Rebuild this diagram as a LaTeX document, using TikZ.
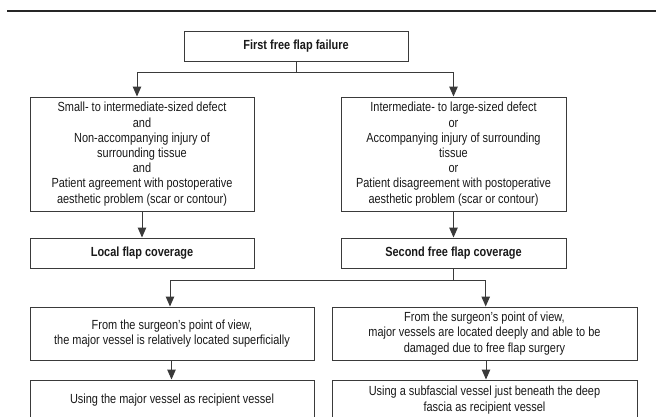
\documentclass[tikz,border=0pt]{standalone}
\usepackage{fontspec}
\setmainfont{Liberation Sans}[FakeStretch=0.83]
\usetikzlibrary{arrows.meta,calc}
\definecolor{ln}{HTML}{3A3A3A}
\definecolor{tx}{HTML}{1A1A1A}
\tikzset{
  box/.style={draw=ln, line width=1pt, rectangle, inner sep=0pt, align=center,
    text=tx, font=\fontsize{13.2}{15.2}\selectfont},
  bbox/.style={box, font=\fontsize{13.2}{15.2}\selectfont\bfseries},
  conn/.style={draw=ln, line width=1pt},
  arr/.style={conn, -{Triangle[length=10pt,width=8.5pt]}},
}
\begin{document}
\begin{tikzpicture}[x=1pt,y=-1pt]
\useasboundingbox (0,0) rectangle (656,416);
\clip (0,0) rectangle (656,416);
\fill[white] (0,0) rectangle (656,416);
\draw[line width=2.5pt, draw=black!85] (7,11) -- (656,11);

\node[bbox, minimum width=224pt, minimum height=30pt] (A) at (296,46) {First free flap failure};
\node[box, minimum width=224pt, minimum height=114pt] (B) at (142,154) {Small- to intermediate-sized defect\\and\\Non-accompanying injury of\\surrounding tissue\\and\\Patient agreement with postoperative\\aesthetic problem (scar or contour)};
\node[box, minimum width=225pt, minimum height=114pt] (C) at (453.5,154) {Intermediate- to large-sized defect\\or\\Accompanying injury of surrounding\\tissue\\or\\Patient disagreement with postoperative\\aesthetic problem (scar or contour)};
\node[bbox, minimum width=224pt, minimum height=30pt] (D) at (142,253) {Local flap coverage};
\node[bbox, minimum width=225pt, minimum height=30pt] (E) at (453.5,253) {Second free flap coverage};
\node[box, minimum width=284pt, minimum height=53pt] (F) at (172,333.5) {From the surgeon's point of view,\\the major vessel is relatively located superficially};
\node[box, minimum width=305pt, minimum height=53pt] (G) at (484.5,333.5) {From the surgeon's point of view,\\major vessels are located deeply and able to be\\damaged due to free flap surgery};
\node[box, minimum width=284pt, minimum height=40pt] (H) at (172,400) {Using the major vessel as recipient vessel};
\node[box, minimum width=305pt, minimum height=40pt] (I) at (484.5,400) {Using a subfascial vessel just beneath the deep\\fascia as recipient vessel};

\coordinate (j1) at (296,72.7);
\draw[conn] (A.south) -- (j1);
\draw[arr] (j1) -| ([xshift=-5pt]B.north);
\draw[arr] (j1) -| (C.north);
\draw[arr] (B.south) -- (D.north);
\draw[arr] (C.south) -- (E.north);

\coordinate (j2) at (453.5,280);
\draw[conn] (E.south) -- (j2);
\draw[arr] (j2) -| ([xshift=-2pt]F.north);
\draw[arr] (j2) -| ([xshift=1.2pt]G.north);
\draw[arr] ([xshift=-0.5pt]F.south) -- ([xshift=-0.5pt]H.north);
\draw[arr] ([xshift=1.5pt]G.south) -- ([xshift=1.5pt]I.north);
\end{tikzpicture}
\end{document}
